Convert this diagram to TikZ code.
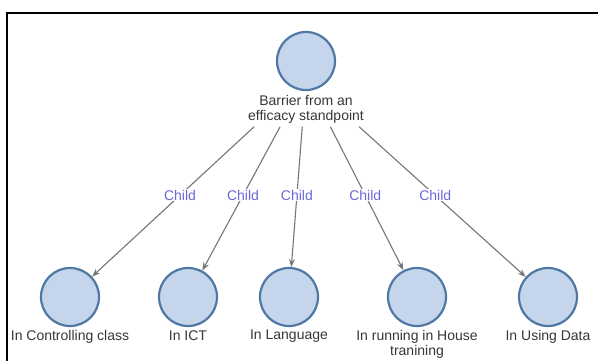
\documentclass[tikz,border=0pt]{standalone}
\usepackage{fontspec}
\setmainfont{Liberation Sans}
\usetikzlibrary{arrows.meta,calc,fit}
\definecolor{nodefill}{RGB}{197,214,236}
\definecolor{nodeline}{RGB}{80,120,165}
\definecolor{edgegray}{RGB}{118,118,118}
\definecolor{childblue}{RGB}{105,105,215}
\definecolor{textgray}{RGB}{55,55,55}
\begin{document}
\begin{tikzpicture}[x=1pt,y=-1pt,
  vertex/.style={circle,draw=nodeline,fill=nodefill,line width=2.2pt,minimum size=58pt,inner sep=0pt},
  vlabel/.style={font=\fontsize{14}{15}\selectfont,text=textgray,align=center,anchor=north,inner xsep=2pt,inner ysep=1pt},
  link/.style={draw=edgegray,line width=1.1pt,-{Stealth[length=8pt,width=6pt]}},
  childtag/.style={font=\fontsize{14}{15}\selectfont,text=childblue,fill=white,inner sep=1pt}]
\useasboundingbox (0,0) rectangle (598,361);
\fill[white] (0,0) rectangle (598,361);

% window frame
\draw[line width=2pt] (7,361) -- (7,13) -- (598,13);

% root vertex, its caption and the box that holds both
\node[vertex] (top) at (306,61) {};
\node[vlabel,inner ysep=3pt] (toplbl) at ([yshift=-1pt]top.south) {Barrier from an\\efficacy standpoint};
\node[fit=(top)(toplbl),inner sep=0pt] (root) {};

% child vertices
\node[vertex] (c1) at (70,297) {};
\node[vertex] (c2) at (188,297) {};
\node[vertex] (c3) at (289,297) {};
\node[vertex] (c4) at (417,297) {};
\node[vertex] (c5) at (548,297) {};

% captions of the children
\node[vlabel] (l1) at ([yshift=-2pt]c1.south) {In Controlling class};
\node[vlabel] (l2) at ([yshift=-2pt]c2.south) {In ICT};
\node[vlabel] (l3) at ([yshift=-2pt]c3.south) {In Language};
\node[vlabel] (l4) at ([yshift=-2pt]c4.south) {In running in House\\tranining};
\node[vlabel] (l5) at ([yshift=-2pt]c5.south) {In Using Data};

% connectors from the root box to each child
\foreach \c in {c1,c2,c3,c4,c5}
  \draw[link] (root) -- (\c);

% edge tags
\foreach \c/\k in {c1/k1,c2/k2,c3/k3,c4/k4,c5/k5}
  \node[childtag] (\k) at ($(root.center)!0.534!(\c.center)$) {Child};
\end{tikzpicture}
\end{document}
